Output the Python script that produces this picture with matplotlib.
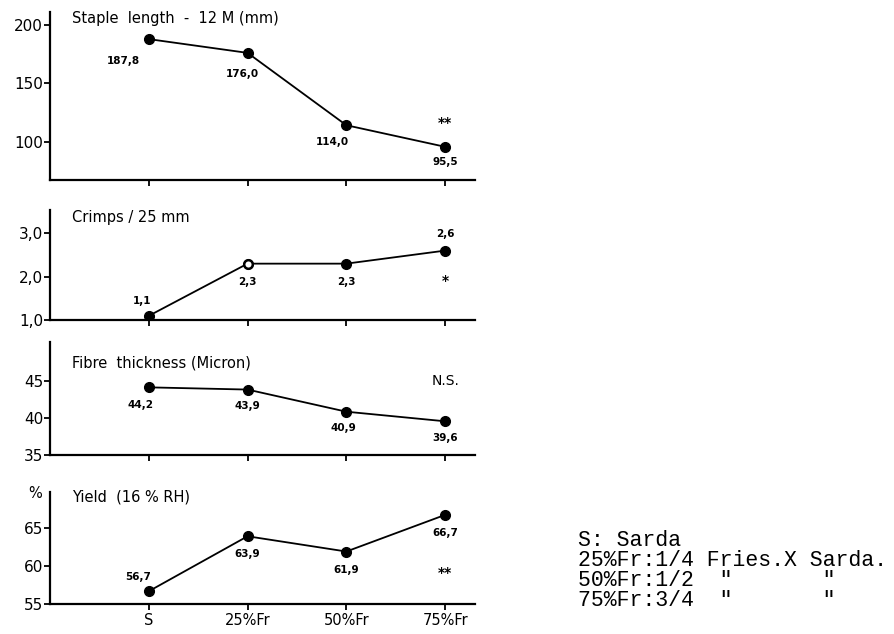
# -*- coding: utf-8 -*-
from matplotlib import pyplot as plt

groups = ['S', '25%Fr', '50%Fr', '75%Fr']

staple = [187.8, 176.0, 114.0, 95.5]
staple_lbl = ['187,8', '176,0', '114,0', '95,5']
crimps = [1.1, 2.3, 2.3, 2.6]
crimps_lbl = ['1,1', '2,3', '2,3', '2,6']
fibre = [44.2, 43.9, 40.9, 39.6]
fibre_lbl = ['44,2', '43,9', '40,9', '39,6']
yld = [56.7, 63.9, 61.9, 66.7]
yld_lbl = ['56,7', '63,9', '61,9', '66,7']

legend_lines = ['S: Sarda',
                '25%Fr:1/4 Fries.X Sarda.',
                '50%Fr:1/2  "       "',
                '75%Fr:3/4  "       "']

plt.rcParams['font.family'] = ['DejaVu Sans']

fig = plt.figure(figsize=(8.94, 6.34), dpi=100)
xs = list(range(len(groups)))


def panel(rect, vals, lbls, offs, ylim, yticks, yticklbls, title, ty, sig, sig_off):
    ax = fig.add_axes(rect)
    ax.plot(xs, vals, '-o', color='black', lw=1.3, ms=7)
    for x, v, l, o in zip(xs, vals, lbls, offs):
        ax.annotate(l, (x, v), xytext=o, textcoords='offset points',
                    ha='center', va='center', fontsize=7.5, fontweight='bold')
    if sig:
        if sig == 'N.S.':
            ax.annotate(sig, (xs[-1], vals[-1]), xytext=sig_off, textcoords='offset points',
                        ha='center', va='center', fontsize=10)
        else:
            ax.annotate(sig, (xs[-1], vals[-1]), xytext=sig_off, textcoords='offset points',
                        ha='center', va='center', fontsize=10, fontweight='bold')
    ax.set_xlim(-1.0, 3.3)
    ax.set_ylim(*ylim)
    ax.set_yticks(yticks)
    ax.set_yticklabels(yticklbls, fontsize=11)
    ax.set_xticks(xs)
    ax.set_xticklabels([])
    for s in ['top', 'right']:
        ax.spines[s].set_visible(False)
    for s in ['left', 'bottom']:
        ax.spines[s].set_linewidth(1.6)
    ax.tick_params(direction='out', length=4, width=1.3, pad=1)
    ax.text(0.052, ty, title, transform=ax.transAxes, fontsize=10.5,
            ha='left', va='center')
    return ax


panel([0.056, 0.716, 0.475, 0.265], staple, staple_lbl,
      [(-18, -16), (-4, -15), (-10, -12), (0, -11)],
      (67, 211), [100, 150, 200], ['100', '150', '200'],
      'Staple  length  -  12 M (mm)', 0.96, '**', (0, 17))

ax2 = panel([0.056, 0.495, 0.475, 0.1735], crimps, crimps_lbl,
            [(-5, 11), (0, -13), (0, -13), (0, 12)],
            (1.0, 3.53), [1.0, 2.0, 3.0], ['1,0', '2,0', '3,0'],
            'Crimps / 25 mm', 0.93, '*', (0, -22))
ax2.plot(xs[1], crimps[1], 'o', ms=6, mfc='white', mec='black', mew=1.6)

panel([0.056, 0.282, 0.475, 0.178], fibre, fibre_lbl,
      [(-6, -13), (0, -12), (-2, -12), (0, -12)],
      (35, 50.3), [35, 40, 45], ['35', '40', '45'],
      'Fibre  thickness (Micron)', 0.82, 'N.S.', (0, 29))

ax4 = panel([0.056, 0.047, 0.475, 0.177], yld, yld_lbl,
            [(-8, 10), (0, -13), (0, -13), (0, -13)],
            (55, 69.7), [55, 60, 65], ['55', '60', '65'],
            'Yield  (16 % RH)', 0.955, '**', (0, -42))
ax4.set_xticklabels(groups, fontsize=10.5)
ax4.tick_params(axis='x', pad=2)
ax4.text(-0.02, 0.985, '%', transform=ax4.transAxes, fontsize=10.5,
         ha='right', va='center')

for i, line in enumerate(legend_lines):
    fig.text(578 / 894, 1 - (541 + 20 * i) / 634, line, family='Liberation Mono',
             fontsize=15.5, ha='left', va='center')

fig.savefig('out.png', dpi=100)
